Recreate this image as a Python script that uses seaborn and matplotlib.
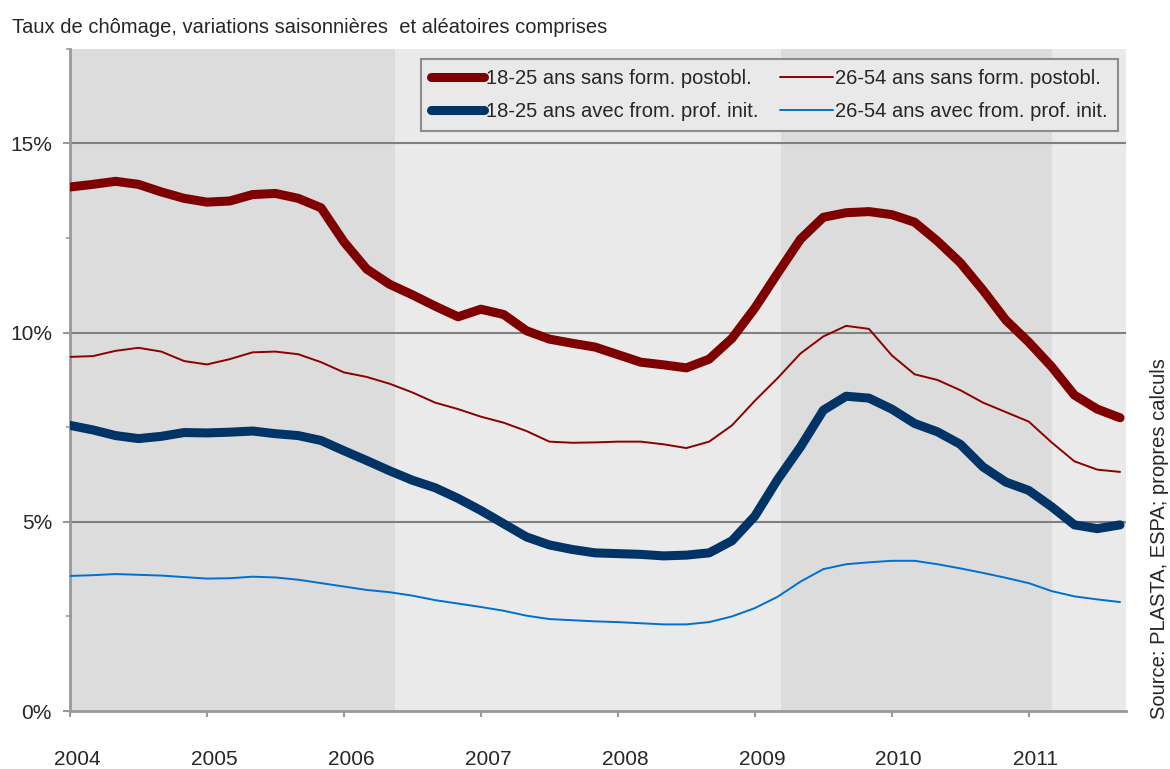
import numpy as np
import pandas as pd
import matplotlib
matplotlib.use("Agg")
import matplotlib.pyplot as plt
import matplotlib.transforms as mtransforms
import seaborn as sns

# time axis: every two months, Jan 2004 -> Sep 2011
years = [2004 + k / 6 for k in range(47)]

jeunes_sans = [13.85, 13.92, 14.0, 13.92, 13.72, 13.55, 13.45, 13.48, 13.65, 13.68, 13.55, 13.3,
               12.4, 11.68, 11.28, 11.0, 10.7, 10.42, 10.62, 10.48, 10.05, 9.83, 9.72, 9.62,
               9.42, 9.22, 9.15, 9.07, 9.3, 9.85, 10.65, 11.57, 12.47, 13.05, 13.17, 13.2,
               13.12, 12.92, 12.42, 11.85, 11.12, 10.33, 9.75, 9.1, 8.35, 7.98, 7.75]
adultes_sans = [9.36, 9.38, 9.52, 9.6, 9.5, 9.25, 9.16, 9.3, 9.48, 9.5, 9.43, 9.22,
                8.95, 8.83, 8.65, 8.42, 8.15, 7.98, 7.78, 7.62, 7.4, 7.12, 7.09, 7.1,
                7.12, 7.12, 7.05, 6.95, 7.12, 7.55, 8.2, 8.8, 9.45, 9.9, 10.18, 10.1,
                9.4, 8.9, 8.75, 8.48, 8.15, 7.9, 7.65, 7.1, 6.6, 6.38, 6.32]
jeunes_avec = [7.55, 7.43, 7.28, 7.2, 7.26, 7.36, 7.35, 7.37, 7.4, 7.33, 7.28, 7.15,
               6.88, 6.62, 6.35, 6.1, 5.9, 5.62, 5.3, 4.95, 4.6, 4.39, 4.27, 4.18,
               4.16, 4.14, 4.1, 4.12, 4.18, 4.5, 5.15, 6.12, 6.98, 7.95, 8.32, 8.27,
               7.98, 7.6, 7.38, 7.05, 6.45, 6.05, 5.83, 5.4, 4.92, 4.82, 4.92]
adultes_avec = [3.57, 3.59, 3.62, 3.6, 3.58, 3.54, 3.5, 3.51, 3.55, 3.53, 3.47, 3.38,
                3.29, 3.2, 3.14, 3.05, 2.93, 2.84, 2.75, 2.65, 2.52, 2.43, 2.4, 2.37,
                2.35, 2.32, 2.29, 2.29, 2.35, 2.5, 2.72, 3.02, 3.42, 3.75, 3.88, 3.93,
                3.97, 3.97, 3.88, 3.77, 3.65, 3.52, 3.38, 3.17, 3.03, 2.95, 2.88]

labels = ["18-25 ans sans form. postobl.", "26-54 ans sans form. postobl.",
          "18-25 ans avec from. prof. init.", "26-54 ans avec from. prof. init."]

# shaded periods (dark bands)
bands = [(2004.0, 2006.37), (2009.19, 2011.17)]
x_end = 2011.71

sns.set_style("white")
plt.rcParams['font.family'] = ['Liberation Sans', 'DejaVu Sans']

fig = plt.figure(figsize=(11.7, 7.69), dpi=100)
ax = fig.add_axes([0.0598, 0.0754, 0.9026, 0.861])

ax.axvspan(2004.0, x_end, color="#EAEAEA", lw=0, zorder=0)
for a, b in bands:
    ax.axvspan(a, b, color="#DCDCDC", lw=0, zorder=0)
for yv in [5, 10, 15]:
    ax.axhline(yv, color="#808080", lw=1.5, zorder=1)

# draw order: legend handles in order A, C, B, D so ncol=2 gives rows A|B and C|D
styles = [
    (jeunes_sans, labels[0], "#7F0000", 6.5),
    (jeunes_avec, labels[2], "#003366", 6.5),
    (adultes_sans, labels[1], "#8B0000", 1.4),
    (adultes_avec, labels[3], "#0070D0", 1.4),
]
for vals, lab, col, lw in styles:
    sns.lineplot(x=years, y=vals, ax=ax, color=col, lw=lw, label=lab,
                 solid_capstyle="round", solid_joinstyle="round", zorder=3)

ax.set_xlim(2004, x_end)
ax.set_ylim(0, 17.5)
ax.set_xticks(range(2004, 2012))
ax.set_xticklabels([str(y) for y in range(2004, 2012)])
ax.set_yticks([0, 5, 10, 15])
ax.set_yticklabels(["0%", "5%", "10%", "15%"])
ax.set_yticks([2.5, 7.5, 12.5, 17.5], minor=True)
ax.tick_params(axis="x", direction="out", length=4, width=1.5, color="#999999",
               pad=24, labelsize=15, bottom=True)
ax.tick_params(axis="y", which="major", direction="out", length=5, width=1.5,
               color="#999999", pad=8, labelsize=15, left=True)
ax.tick_params(axis="y", which="minor", direction="out", length=3, width=1.2,
               color="#999999", left=True)
ax.set_xlabel("")
ax.set_ylabel("")

# year labels sit a little right of their ticks
shift = mtransforms.ScaledTranslation(7 / 100, 0, fig.dpi_scale_trans)
for t in ax.get_xticklabels():
    t.set_transform(t.get_transform() + shift)

for side in ["top", "right"]:
    ax.spines[side].set_visible(False)
for side in ["left", "bottom"]:
    ax.spines[side].set_color("#999999")
    ax.spines[side].set_linewidth(2)

leg = ax.legend(ncol=2, loc="upper right", bbox_to_anchor=(0.992, 0.985),
                fontsize=14.5, frameon=True, fancybox=False, handlelength=2.6,
                handletextpad=0.1, columnspacing=1.1, labelspacing=0.7,
                borderpad=0.5, borderaxespad=0)
leg.get_frame().set_facecolor("#E9E9E9")
leg.get_frame().set_edgecolor("#8C8C8C")
leg.get_frame().set_linewidth(1.5)
leg.get_frame().set_alpha(1)

fig.text(0.01, 0.964, "Taux de chômage, variations saisonnières  et aléatoires comprises",
         fontsize=14.5, ha="left", va="center")
fig.text(0.991, 0.30, "Source: PLASTA, ESPA; propres calculs", fontsize=14.5,
         rotation=90, ha="center", va="center")

fig.savefig("out.png", dpi=100)
